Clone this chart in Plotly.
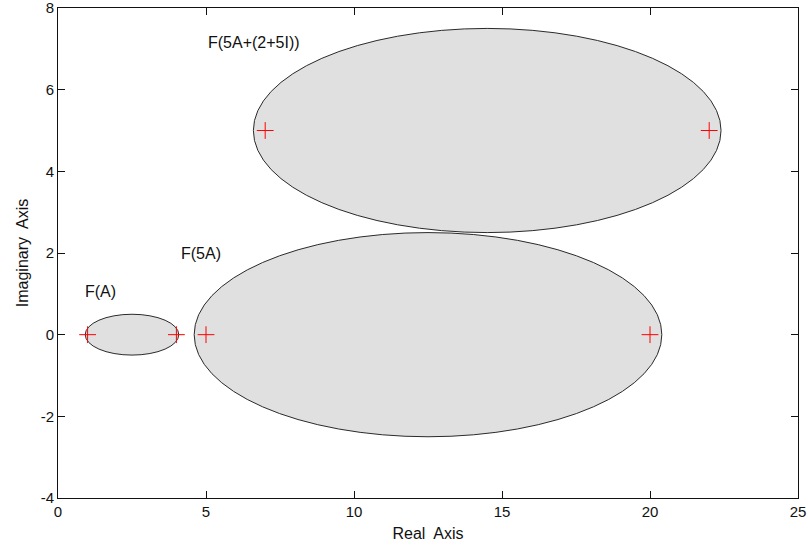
import plotly.graph_objects as go

# Eigenvalues of A, 5A and 5A+(2+5i)I (real and imaginary parts)
eig_re = [1, 4, 5, 20, 7, 22]
eig_im = [0, 0, 0, 0, 5, 5]

# Numerical-range ellipses: centre and semi-axes
ell_names = ["F(A)", "F(5A)", "F(5A+(2+5I))"]
ell_cx = [2.5, 12.5, 14.5]
ell_cy = [0.0, 0.0, 5.0]
ell_ax = [1.58, 7.9, 7.9]
ell_ay = [0.5, 2.5, 2.5]

# Annotation anchor points (left edge, vertical middle)
lbl_x = [0.85, 4.1, 5.0]
lbl_y = [1.05, 2.0, 7.15]

x_ticks = [0, 5, 10, 15, 20, 25]
y_ticks = [-4, -2, 0, 2, 4, 6, 8]
y_tick_text = ["-4", "-2", "0", "2", "4", "6", "8"]

FONT = "Liberation Sans, Arial, sans-serif"

fig = go.Figure()

shapes = []
for cx, cy, ax, ay in zip(ell_cx, ell_cy, ell_ax, ell_ay):
    shapes.append(dict(
        type="circle", xref="x", yref="y",
        x0=cx - ax, x1=cx + ax, y0=cy - ay, y1=cy + ay,
        fillcolor="#e0e0e0", line=dict(color="#2a2a2a", width=1),
        layer="below",
    ))

fig.add_trace(go.Scatter(
    x=eig_re, y=eig_im, mode="markers",
    marker=dict(symbol="cross-thin", size=12, color="red",
                line=dict(color="red", width=1)),
    showlegend=False, hoverinfo="x+y",
))

annotations = [
    dict(x=x, y=y, xref="x", yref="y", text=t, showarrow=False,
         xanchor="left", yanchor="middle",
         font=dict(family=FONT, size=16, color="#111"))
    for t, x, y in zip(ell_names, lbl_x, lbl_y)
]

axis_common = dict(
    showgrid=False, zeroline=False, showline=True, linecolor="#111",
    linewidth=1, mirror="ticks", ticks="inside", ticklen=7,
    tickcolor="#111", tickwidth=1, ticklabeloverflow="allow",
    tickfont=dict(family=FONT, size=15, color="#111"),
)

fig.update_layout(
    width=808, height=548,
    margin=dict(l=58, r=10, t=8, b=50, autoexpand=False),
    paper_bgcolor="white", plot_bgcolor="white",
    shapes=shapes, annotations=annotations,
    xaxis=dict(range=[0, 25], tickvals=x_ticks,
               title=dict(text="Real  Axis", standoff=8,
                          font=dict(family=FONT, size=16, color="#111")),
               **axis_common),
    yaxis=dict(range=[-4, 8], tickvals=y_ticks, ticktext=y_tick_text,
               title=dict(text="Imaginary  Axis", standoff=8,
                          font=dict(family=FONT, size=16, color="#111")),
               **axis_common),
)

fig.write_html("out.html")
